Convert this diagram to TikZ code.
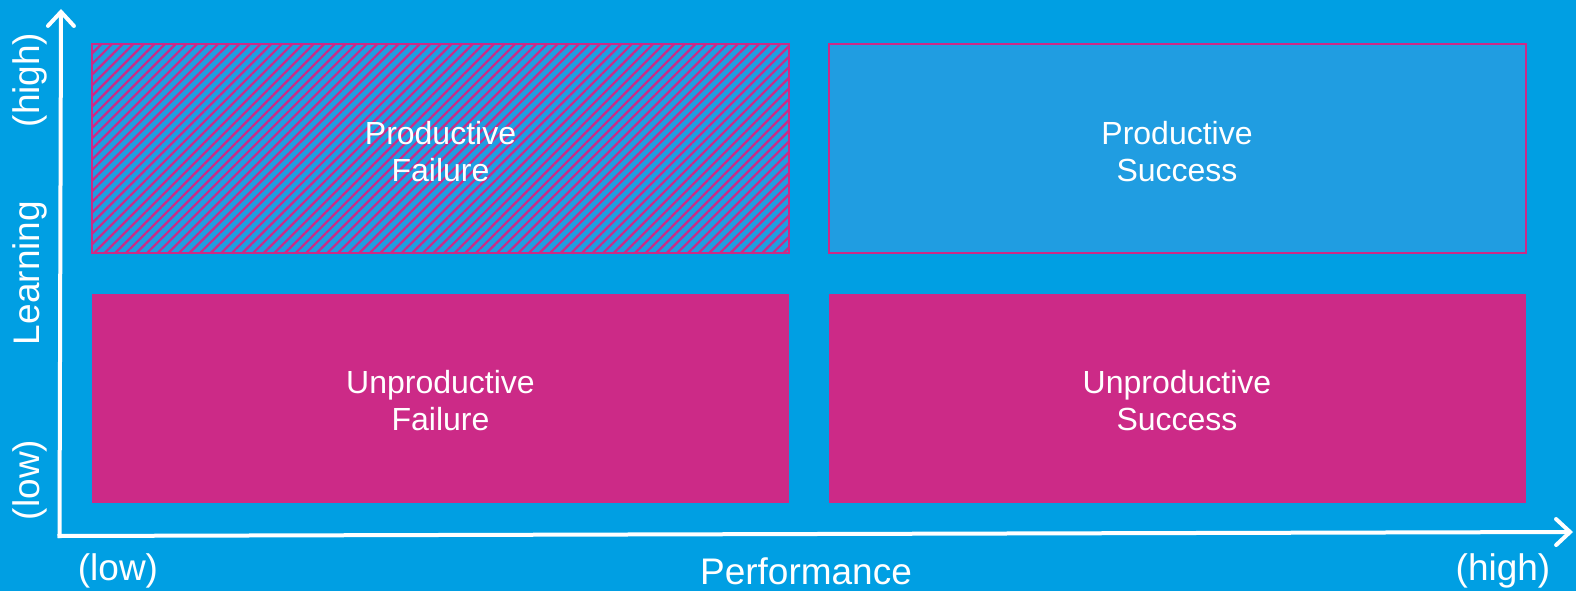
\documentclass[tikz,border=0pt]{standalone}
\usepackage{fontspec}
\setmainfont{Liberation Sans}
\usetikzlibrary{arrows.meta,patterns.meta}
\definecolor{bg}{HTML}{009FE3}
\definecolor{boxblue}{HTML}{209DE1}
\definecolor{mag}{HTML}{CC2A87}
\begin{document}
\begin{tikzpicture}[x=1pt,y=-1pt,
  quad/.style={rectangle, inner sep=0pt, minimum width=697pt, minimum height=209pt},
  solidbox/.style={quad, fill=mag},
  bluebox/.style={quad, fill=boxblue, draw=mag, line width=2pt},
  hatchbox/.style={quad, draw=mag, line width=2pt, preaction={fill=boxblue},
    pattern={Lines[angle=45,distance=7.5pt,line width=2.2pt]}, pattern color=mag},
  boxtext/.style={align=center, text=white, inner sep=0pt, font=\fontsize{32}{37}\selectfont},
  axis/.style={draw=white, line width=4pt, -{Straight Barb[length=14pt,width=26pt,line cap=round]}},
  axlabel/.style={text=white, inner sep=0pt, font=\fontsize{37}{37}\selectfont}]
\fill[bg] (0,0) rectangle (1576,591);
\useasboundingbox (0,0) rectangle (1576,591);

\node[hatchbox] (pf) at (440.5,148.5) {};
\node[bluebox]  (ps) at (1177,148.5) {};
\node[solidbox] (uf) at (440.5,398) {};
\node[solidbox] (us) at (1177,398) {};
\node[boxtext] (pft) at ([yshift=-3pt]pf.center) {Productive\\Failure};
\node[boxtext] (pst) at ([yshift=-3pt]ps.center) {Productive\\Success};
\node[boxtext] (uft) at ([yshift=-3pt]uf.center) {Unproductive\\Failure};
\node[boxtext] (ust) at ([yshift=-3pt]us.center) {Unproductive\\Success};

\coordinate (oy) at (59.5,538);
\coordinate (ytip) at (61,9);
\coordinate (ox) at (57.5,536);
\coordinate (xtip) at (1573,532);
\draw[axis] (oy) -- (ytip);
\draw[axis] (ox) -- (xtip);

\node[axlabel] (xlow) at (118,571) {(low)};
\node[axlabel] (xname) at (806,571) {Performance};
\node[axlabel] (xhigh) at (1503,571) {(high)};
\node[axlabel, rotate=90] (yhigh) at (30,80) {(high)};
\node[axlabel, rotate=90] (yname) at (30,273) {Learning};
\node[axlabel, rotate=90] (ylow) at (30,480) {(low)};
\end{tikzpicture}
\end{document}
